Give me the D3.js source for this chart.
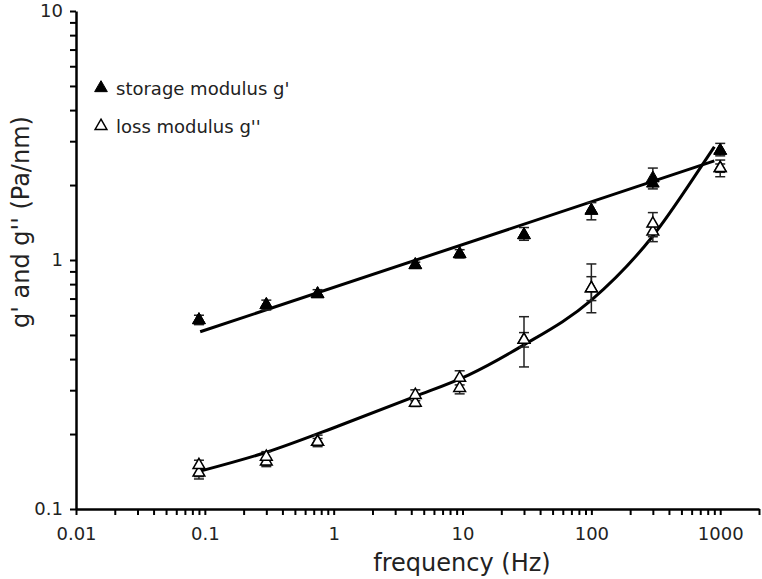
<!DOCTYPE html>
<html>
<head>
<meta charset="utf-8">
<script src="https://cdn.jsdelivr.net/npm/d3@7"></script>
<style>
    body { margin: 0; background: #fff; }
    svg { display: block; font-family: "DejaVu Sans", Verdana, sans-serif; }
</style>
</head>
<body>
<svg id="chart"></svg>
<script>
// measured frequencies (Hz)
var freqs = [0.09, 0.3, 0.75, 4.3, 9.5, 30, 100, 300, 1000];

// storage modulus g' (two runs, first with error bars)
var storageA = [0.574, 0.660, 0.730, 0.955, 1.057, 1.26, 1.58, 2.13, 2.75];
var storageALo = [0.55, 0.63, 0.71, 0.93, 1.02, 1.20, 1.45, 1.93, 2.62];
var storageAHi = [0.60, 0.69, 0.76, 0.98, 1.10, 1.35, 1.70, 2.34, 2.94];
var storageB = [0.574, 0.660, 0.730, 0.955, 1.057, 1.26, 1.58, 2.03, 2.75];

// loss modulus g'' (two runs)
var lossA = [0.150, 0.162, 0.186, 0.287, 0.336, 0.478, 0.770, 1.40, 2.34];
var lossALo = [0.132, 0.148, 0.178, 0.258, 0.290, 0.372, 0.614, 1.185, 2.16];
var lossAHi = [0.157, 0.170, 0.198, 0.301, 0.359, 0.592, 0.964, 1.55, 2.52];
var lossB = [0.140, 0.155, 0.186, 0.267, 0.306, 0.478, 0.770, 1.30, 2.34];
var lossBLo = [0.135, 0.150, 0.180, 0.262, 0.298, 0.447, 0.687, 1.24, 2.25];
var lossBHi = [0.146, 0.160, 0.192, 0.272, 0.315, 0.511, 0.857, 1.36, 2.43];

// fitted curves
var storageFitF = [0.092, 900];
var storageFitV = [0.515, 2.50];
var lossFitF = [0.092, 0.3, 1.1, 4.2, 11.1, 28.8, 100, 297, 711, 900];
var lossFitV = [0.142, 0.169, 0.216, 0.282, 0.345, 0.451, 0.69, 1.24, 2.37, 2.85];

var xTickLabels = ["0.01", "0.1", "1", "10", "100", "1000"];
var yTickLabels = ["0.1", "1", "10"];
var legendLabels = ["storage modulus g'", "loss modulus g''"];

var W = 762, H = 579;
var svg = d3.select("#chart").attr("width", W).attr("height", H);

var x = d3.scaleLog().domain([0.01, 2000]).range([76, 759]);
var y = d3.scaleLog().domain([0.1, 10]).range([509, 11]);

function logTicks(lo, hi) {
    var t = [];
    for (var d = lo; d < hi * 1.01; d *= 10) {
        for (var k = 1; k < 10; ++k) {
            if (d * k <= hi * 1.0001) t.push(d * k);
        }
    }
    return t;
}
function isDecade(v) {
    var l = Math.log10(v);
    return Math.abs(l - Math.round(l)) < 1e-6;
}
function labelFor(labels, v) {
    var s = labels.filter(function (l) { return Math.abs(+l - v) < v * 1e-6; });
    return s.length ? s[0] : "";
}

// x axis
var xAxis = d3.axisBottom(x)
    .tickValues(logTicks(0.01, 2000))
    .tickSize(6)
    .tickSizeOuter(0)
    .tickFormat(function (v) { return isDecade(v) ? labelFor(xTickLabels, v) : ""; });
var gx = svg.append("g").attr("transform", "translate(0," + y(0.1) + ")").call(xAxis);
gx.select(".domain").attr("stroke-width", 2.5).attr("stroke", "#000");
gx.selectAll(".tick line").attr("stroke-width", 2);
gx.selectAll(".tick text").attr("font-size", 18).attr("fill", "#222").attr("dy", "1.2em")
    .attr("font-family", "DejaVu Sans, Verdana, sans-serif");

// y axis
var yAxis = d3.axisLeft(y)
    .tickValues(logTicks(0.1, 10))
    .tickSize(6)
    .tickSizeOuter(0)
    .tickFormat(function (v) { return isDecade(v) ? labelFor(yTickLabels, v) : ""; });
var gy = svg.append("g").attr("transform", "translate(" + x(0.01) + ",0)").call(yAxis);
gy.select(".domain").attr("stroke-width", 2.5).attr("stroke", "#000");
gy.selectAll(".tick line").attr("stroke-width", 2);
gy.selectAll(".tick text").attr("font-size", 18).attr("fill", "#222").attr("x", -13)
    .attr("font-family", "DejaVu Sans, Verdana, sans-serif");

// axis titles
svg.append("text")
    .attr("x", 462).attr("y", 571)
    .attr("text-anchor", "middle")
    .attr("font-size", 24).attr("fill", "#222")
    .text("frequency (Hz)");
svg.append("text")
    .attr("transform", "translate(29,222) rotate(-90)")
    .attr("text-anchor", "middle")
    .attr("font-size", 24).attr("fill", "#222")
    .text("g' and g'' (Pa/nm)");

// fit lines
var line = d3.line()
    .x(function (d) { return x(d[0]); })
    .y(function (d) { return y(d[1]); })
    .curve(d3.curveMonotoneX);
svg.append("path")
    .datum(d3.zip(storageFitF, storageFitV))
    .attr("d", line).attr("fill", "none").attr("stroke", "#000").attr("stroke-width", 3);
svg.append("path")
    .datum(d3.zip(lossFitF, lossFitV))
    .attr("d", line).attr("fill", "none").attr("stroke", "#000").attr("stroke-width", 3);

// error bars
function errorBars(lo, hi) {
    var g = svg.append("g").attr("stroke", "#222").attr("stroke-width", 1.5);
    freqs.forEach(function (f, i) {
        if (lo[i] == null) return;
        var cx = x(f);
        g.append("line").attr("x1", cx).attr("x2", cx).attr("y1", y(lo[i])).attr("y2", y(hi[i]));
        g.append("line").attr("x1", cx - 5).attr("x2", cx + 5).attr("y1", y(lo[i])).attr("y2", y(lo[i]));
        g.append("line").attr("x1", cx - 5).attr("x2", cx + 5).attr("y1", y(hi[i])).attr("y2", y(hi[i]));
    });
}
errorBars(storageALo, storageAHi);
errorBars(lossALo, lossAHi);
errorBars(lossBLo, lossBHi);

// markers
var tri = d3.symbol().type(d3.symbolTriangle);
function markers(vals, filled, size) {
    svg.append("g").selectAll("path")
        .data(freqs.map(function (f, i) { return [f, vals[i]]; }).filter(function (d) { return d[1] != null; }))
        .enter().append("path")
        .attr("transform", function (d) { return "translate(" + x(d[0]) + "," + y(d[1]) + ")"; })
        .attr("d", tri.size(size))
        .attr("fill", filled ? "#000" : "#fff")
        .attr("stroke", "#000")
        .attr("stroke-width", filled ? 1 : 1.5);
}
markers(storageB, true, 70);
markers(storageA, true, 70);
markers(lossB, false, 60);
markers(lossA, false, 60);

// legend
var legend = svg.append("g");
legendLabels.forEach(function (t, i) {
    var ly = 88 + i * 38;
    legend.append("path")
        .attr("transform", "translate(101," + ly + ")")
        .attr("d", tri.size(i === 0 ? 70 : 60))
        .attr("fill", i === 0 ? "#000" : "#fff")
        .attr("stroke", "#000")
        .attr("stroke-width", i === 0 ? 1 : 1.5);
    legend.append("text")
        .attr("x", 116).attr("y", ly + 7)
        .attr("font-size", 18).attr("fill", "#222")
        .text(t);
});
</script>
</body>
</html>
